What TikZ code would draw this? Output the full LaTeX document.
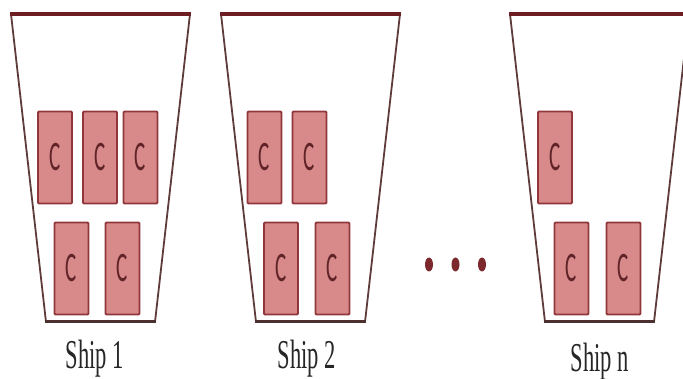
\documentclass[tikz,border=0pt]{standalone}
\usepackage{fontspec}
\setmainfont{Liberation Serif}
\newfontfamily\boxfont{Carlito}
\definecolor{hullline}{RGB}{95,60,60}
\definecolor{deckline}{RGB}{110,30,35}
\definecolor{boxfill}{RGB}{216,138,138}
\definecolor{boxedge}{RGB}{145,55,60}
\definecolor{boxtext}{RGB}{95,35,40}
\definecolor{dotcol}{RGB}{125,40,45}
\tikzset{
  cbox/.style={draw=boxedge, fill=boxfill, line width=1.8pt, minimum width=34pt, minimum height=92pt,
    inner sep=0pt, text=boxtext, font=\fontsize{42}{42}\boxfont, rounded corners=1pt},
  hullside/.style={draw=hullline, line width=1.8pt},
  deck/.style={draw=deckline, line width=3.2pt},
  keel/.style={draw=hullline!80!black, line width=3pt},
  shiplabel/.style={anchor=base, inner sep=0pt, font=\fontsize{41}{41}\selectfont, text=black!85},
  dotmark/.style={ellipse, fill=dotcol, minimum width=8pt, minimum height=14pt, inner sep=0pt}
}
\usetikzlibrary{shapes.geometric}
\newcommand{\cc}{\scalebox{0.5}[1]{C}}
\newcommand{\shiplab}[1]{\scalebox{0.55}[1]{#1}}
\begin{document}
\begin{tikzpicture}[x=1pt,y=-1pt]
\useasboundingbox (0,0) rectangle (683,379);
\clip (0,0) rectangle (683,379);
% ship hulls
\foreach \dx/\nm in {0/a,210/b,499/c}{
  \begin{scope}[xshift=\dx pt]
    \draw[hullside] (11,14) -- (46,322);
    \draw[hullside] (190,14) -- (155,322);
    \draw[deck] (10,14) -- (191,14);
    \draw[keel] (45,322) -- (156,322);
  \end{scope}
}
% containers ship 1
\node[cbox] (a1) at (55,157.5) {\cc};
\node[cbox] (a2) at (100,157.5) {\cc};
\node[cbox] (a3) at (140.5,157.5) {\cc};
\node[cbox] (a4) at (71.5,268.5) {\cc};
\node[cbox] (a5) at (122.5,268.5) {\cc};
% containers ship 2
\node[cbox] (b1) at (264.5,157.5) {\cc};
\node[cbox] (b2) at (309.5,157.5) {\cc};
\node[cbox] (b3) at (281,268.5) {\cc};
\node[cbox] (b4) at (332.5,268.5) {\cc};
% containers ship n
\node[cbox] (c1) at (555,157.5) {\cc};
\node[cbox] (c2) at (571.5,268.5) {\cc};
\node[cbox] (c3) at (623.5,268.5) {\cc};
% dots
\node[dotmark] (d1) at (429,264.5) {};
\node[dotmark] (d2) at (455.5,264.5) {};
\node[dotmark] (d3) at (482,264.5) {};
% labels
\node[shiplabel] (la) at (95,369) {\shiplab{Ship 1}};
\node[shiplabel] (lb) at (307,369) {\shiplab{Ship 2}};
\node[shiplabel] (lc) at (600,371) {\shiplab{Ship n}};
\end{tikzpicture}
\end{document}
